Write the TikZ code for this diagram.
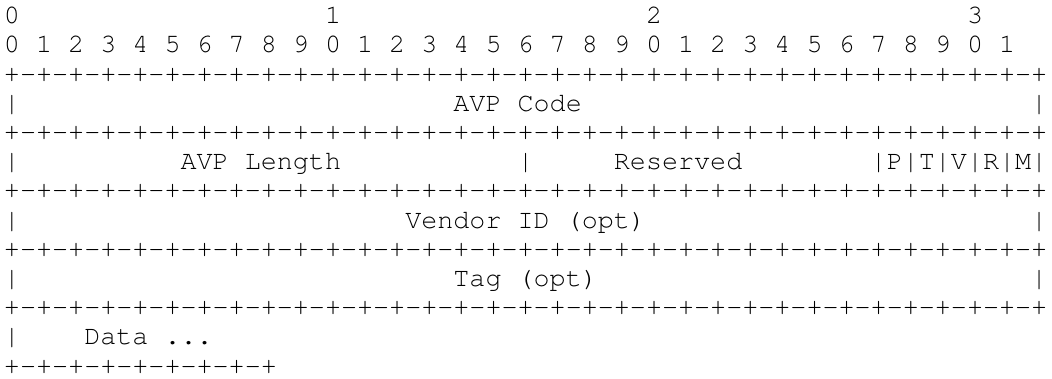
\documentclass[tikz,border=0pt]{standalone}
\usepackage[T1]{fontenc}
\usepackage{tikz}
\newcommand\asciifont{\fontencoding{T1}\fontfamily{pcr}\selectfont}
\usetikzlibrary{positioning}

\newcommand\fullsep{+-+-+-+-+-+-+-+-+-+-+-+-+-+-+-+-+-+-+-+-+-+-+-+-+-+-+-+-+-+-+-+-+}
\newcommand\shortsep{+-+-+-+-+-+-+-+-+}

\tikzset{
  txt/.style={anchor=base west, inner sep=0pt, outer sep=0pt,
    font=\fontsize{26.75pt}{29.2pt}\asciifont}
}

\begin{document}
\begin{tikzpicture}[x=16.05pt, y=-29.2pt]
    \useasboundingbox (0pt,0pt) rectangle (1052pt,-378pt);
    \begin{scope}[shift={(4pt,-23.6pt)}]
    % Bit numbers
    \foreach \n in {0,1,2,3}
        \node[txt] (ten\n) at (20*\n,0) {\n};
    \foreach \b in {0,...,31} {
        \pgfmathtruncatemacro{\d}{mod(\b,10)}
        \node[txt] (bit\b) at (2*\b,1) {\d};
    }

    % Separators
    \foreach \r in {2,4,6,8,10}
        \node[txt] (sep\r) at (0,\r) {\fullsep};

    % Side bars
    \foreach \r in {3,5,7,9} {
        \node[txt] (left\r) at (0,\r) {|};
        \node[txt] (right\r) at (64,\r) {|};
    }

    % AVP Code
    \node[txt] (code) at (28,3) {AVP Code};

    % AVP Length, Reserved, flags
    \node[txt] (len) at (11,5) {AVP Length};
    \node[txt] (mid) at (32,5) {|};
    \node[txt] (res) at (38,5) {Reserved};
    \node[txt] (flags) at (54,5) {|P|T|V|R|M};

    % Vendor ID
    \node[txt] (vendor) at (25,7) {Vendor ID (opt)};

    % Tag
    \node[txt] (tag) at (28,9) {Tag (opt)};

    % Data
    \node[txt] (left11) at (0,11) {|};
    \node[txt] (data) at (5,11) {Data ...};
    \node[txt] (sep12) at (0,12) {\shortsep};
    \end{scope}
\end{tikzpicture}
\end{document}
